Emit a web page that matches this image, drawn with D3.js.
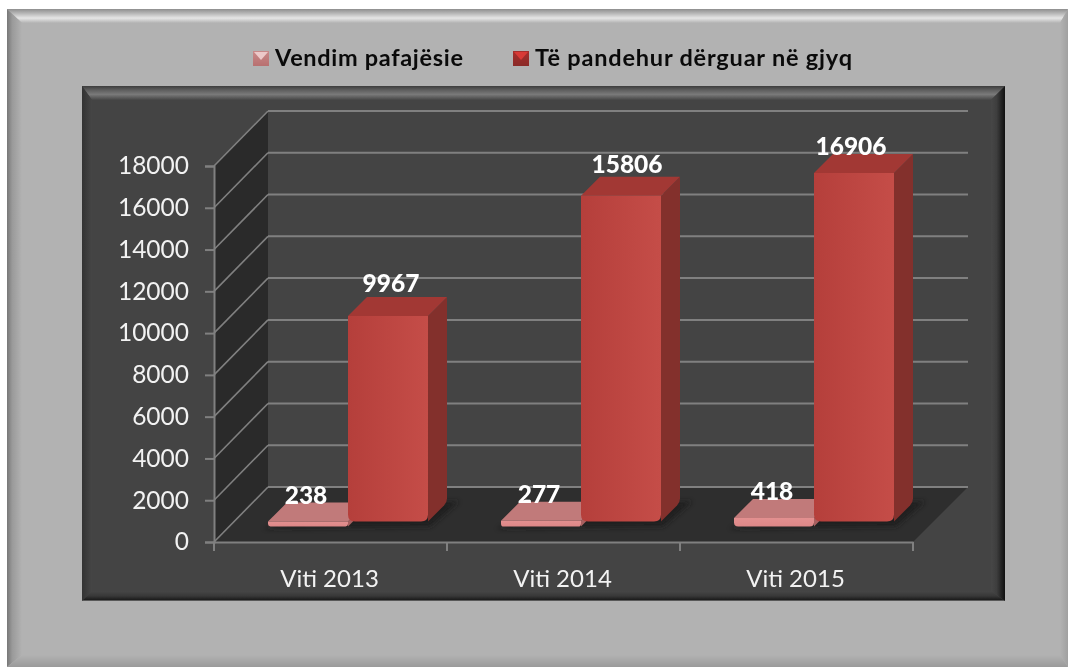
<!DOCTYPE html>
<html><head><meta charset="utf-8">
<script src="https://cdn.jsdelivr.net/npm/d3@7/dist/d3.min.js"></script>
<style>html,body{margin:0;padding:0;background:#fff;overflow:hidden}svg{display:block;filter:blur(.45px)}text{font-family:Lato,"Open Sans",sans-serif}</style>
</head><body><svg id="c" width="1068" height="667"></svg>
<script>
const categories = ["Viti 2013","Viti 2014","Viti 2015"];
const seriesNames = ["Vendim pafajësie","Të pandehur dërguar në gjyq"];
const acquittals = [238,277,418];
const sentToTrial = [9967,15806,16906];
const yTicks = [0,2000,4000,6000,8000,10000,12000,14000,16000,18000];

const svg = d3.select("#c");
const defs = svg.append("defs");
function grad(id,stops,x2,y2){
  const g=defs.append("linearGradient").attr("id",id).attr("x1",0).attr("y1",0).attr("x2",x2).attr("y2",y2);
  stops.forEach(s=>g.append("stop").attr("offset",s[0]).attr("stop-color",s[1]));
}
grad("oT",[[0,"#8e8e8e"],[.35,"#bcbcbc"],[.65,"#e6e6e6"],[1,"#b2b2b2"]],0,1);
grad("oL",[[0,"#777"],[.35,"#9a9a9a"],[1,"#b2b2b2"]],1,0);
grad("oB",[[0,"#b2b2b2"],[1,"#9a9a9a"]],0,1);
grad("oR",[[0,"#b2b2b2"],[1,"#a0a0a0"]],1,0);
grad("iT",[[0,"#3c3c3c"],[.3,"#5f5f5f"],[.6,"#7a7a7a"],[1,"#454545"]],0,1);
grad("iL",[[0,"#333"],[1,"#464646"]],1,0);
grad("iR",[[0,"#474747"],[.4,"#3e3e3e"],[1,"#101010"]],1,0);
grad("iB",[[0,"#464646"],[.5,"#383838"],[.85,"#1e1e1e"],[1,"#777"]],0,1);
grad("redFront",[[0,"#b53f3b"],[1,"#c54d48"]],1,0);
grad("pinkFront",[[0,"#e39090"],[1,"#dd8787"]],0,1);
grad("mk0",[[0,"#c98a8a"],[1,"#b87070"]],0,1);
grad("mk1",[[0,"#a82e2b"],[1,"#8a2a28"]],0,1);
defs.append("filter").attr("id","soft").attr("x","-20%").attr("y","-50%").attr("width","140%").attr("height","200%")
  .append("feGaussianBlur").attr("stdDeviation",2.5);

const poly=(pts,fill)=>svg.append("polygon").attr("points",pts.map(p=>p.join(",")).join(" ")).attr("fill",fill);

// outer panel
svg.append("rect").attr("x",7).attr("y",9).attr("width",1061).attr("height",658).attr("fill","#b2b2b2");
poly([[7,9],[1068,9],[1060,23],[22,23]],"url(#oT)");
poly([[7,9],[22,23],[22,655],[7,667]],"url(#oL)");
poly([[7,667],[22,655],[1060,655],[1068,667]],"url(#oB)");
poly([[1068,9],[1060,23],[1060,655],[1068,667]],"url(#oR)");

// inner panel
const P={l:82,t:86,r:1005,b:601};
svg.append("rect").attr("x",P.l).attr("y",P.t).attr("width",P.r-P.l).attr("height",P.b-P.t).attr("fill","#444");
poly([[P.l,P.t],[P.r,P.t],[P.r-14,P.t+14],[P.l+10,P.t+14]],"url(#iT)");
poly([[P.l,P.t],[P.l+10,P.t+14],[P.l+10,P.b-10],[P.l,P.b]],"url(#iL)");
poly([[P.r,P.t],[P.r-14,P.t+14],[P.r-14,P.b-10],[P.r,P.b]],"url(#iR)");
poly([[P.l,P.b],[P.l+10,P.b-10],[P.r-14,P.b-10],[P.r,P.b]],"url(#iB)");

// scales
const plot={x0:214,x1:913,y0:542,y1:166,dx:54,dy:55};
const x=d3.scaleBand().domain(categories).range([plot.x0,plot.x1]);
const y=d3.scaleLinear().domain([0,18000]).range([plot.y0,plot.y1]);
const xInner=d3.scaleBand().domain(seriesNames).range([54,214]);
const h=d3.scaleLinear().domain([0,18000]).range([0,371]);
const barDepth=19, bases={[seriesNames[0]]:526.5,[seriesNames[1]]:521.5};

// walls and floor
poly([[plot.x0,plot.y0],[plot.x1,plot.y0],[plot.x1+plot.dx+1,plot.y0-plot.dy],[plot.x0+plot.dx,plot.y0-plot.dy]],"#2e2e2e");
poly([[plot.x0,plot.y1],[plot.x0+plot.dx,plot.y1-plot.dy-1],[plot.x0+plot.dx,plot.y0-plot.dy],[plot.x0,plot.y0]],"#2a2a2a");
const gridCol="#808080";
const grid=svg.append("g");
grid.selectAll("line.back").data(yTicks).join("line").attr("class","back")
  .attr("x1",plot.x0+plot.dx).attr("x2",plot.x1+plot.dx+1)
  .attr("y1",d=>y(d)-plot.dy).attr("y2",d=>y(d)-plot.dy)
  .attr("stroke",gridCol).attr("stroke-width",2);
grid.selectAll("line.side").data(yTicks).join("line").attr("class","side")
  .attr("x1",plot.x0).attr("x2",plot.x0+plot.dx)
  .attr("y1",d=>y(d)).attr("y2",d=>y(d)-plot.dy)
  .attr("stroke",gridCol).attr("stroke-width",1.6);

// axes
const yAxis=svg.append("g").attr("transform",`translate(${plot.x0},0)`)
  .call(d3.axisLeft(y).tickValues(yTicks).tickFormat(d3.format("d")).tickSize(9).tickPadding(16));
const xAxis=svg.append("g").attr("transform",`translate(0,${plot.y0})`)
  .call(d3.axisBottom(x).tickSize(0).tickPadding(28));
[yAxis,xAxis].forEach(a=>{
  a.selectAll("path").attr("stroke",gridCol).attr("stroke-width",2);
  a.selectAll("line").attr("stroke",gridCol).attr("stroke-width",2);
  a.selectAll("text").attr("fill","#f2f2f2").style("font-family","Lato");
});
yAxis.selectAll("text").style("font-size","24.5px");
xAxis.selectAll("text").style("font-size","24px").attr("dx",-1);
xAxis.selectAll("line.edge").data(d3.range(categories.length+1)).join("line").attr("class","edge")
  .attr("x1",i=>plot.x0+i*x.step()).attr("x2",i=>plot.x0+i*x.step())
  .attr("y1",0).attr("y2",9).attr("stroke",gridCol).attr("stroke-width",2);

// bars
const rows=[];
categories.forEach((c,i)=>{
  rows.push({c,s:seriesNames[0],v:acquittals[i],k:0,nx:-2,ny:-8});
});
categories.forEach((c,i)=>{
  rows.push({c,s:seriesNames[1],v:sentToTrial[i],k:1,nx:[3,6,-3][i],ny:[-15,-13,-9][i]});
});
const colors=[{top:"#c17a7a",side:"#a86060",front:"url(#pinkFront)"},{top:"#a23834",side:"#83302c",front:"url(#redFront)"}];
const bars=svg.append("g");
rows.forEach(d=>{
  const L=x(d.c)+xInner(d.s), W=xInner.bandwidth(), B=bases[d.s], T=B-h(d.v), R=L+W, D=barDepth;
  d.L=L;d.W=W;d.T=T;
  if(d.k===1) bars.append("polygon").attr("filter","url(#soft)").attr("fill","#1f1f1f")
    .attr("points",`${L-85},${B+7} ${R+2},${B+5} ${R+D+12},${B-D-1} ${L+D+10},${B-D-1}`)
    .attr("opacity",.85);
});
rows.forEach(d=>{
  const L=d.L, W=d.W, T=d.T, B=bases[d.s], R=L+W, D=barDepth, c=colors[d.k];
  const rad=Math.min(7,(B-T)/2);
  bars.append("path").attr("fill",c.side)
    .attr("d",`M ${R} ${T} L ${R+D} ${T-D} L ${R+D} ${B-D-4} Q ${R+D} ${B-D} ${R+D-3} ${B-D+3} L ${R} ${B} Z`);
  bars.append("polygon").attr("fill",c.top)
    .attr("points",`${L},${T} ${L+D},${T-D} ${R+D},${T-D} ${R},${T}`);
  bars.append("path").attr("fill",c.front)
    .attr("d",`M ${L} ${T} L ${R} ${T} L ${R} ${B-rad} Q ${R} ${B} ${R-rad} ${B} L ${L+rad} ${B} Q ${L} ${B} ${L} ${B-rad} Z`);
});

// value labels
svg.append("g").selectAll("text").data(rows).join("text")
  .attr("x",d=>d.L+d.W/2+d.nx).attr("y",d=>d.T-barDepth+d.ny)
  .attr("text-anchor","middle").attr("dominant-baseline","central")
  .attr("fill","#fff").style("font-weight",900).style("font-size","24.5px")
  .text(d=>d.v);

// legend
const legendSpec=[{mx:253,tx:275,w:188,fill:"url(#mk0)",hi:"#ecc9c9"},{mx:513,tx:535,w:317,fill:"url(#mk1)",hi:"#d83a36"}];
const lg=svg.append("g").selectAll("g").data(seriesNames).join("g");
lg.append("rect").attr("x",(d,i)=>legendSpec[i].mx).attr("y",51).attr("width",16).attr("height",15)
  .attr("fill",(d,i)=>legendSpec[i].fill);
lg.append("polygon").attr("fill",(d,i)=>legendSpec[i].hi)
  .attr("points",(d,i)=>{const m=legendSpec[i].mx;return `${m+1},52 ${m+15},52 ${m+8},60`;});
lg.append("text").attr("x",(d,i)=>legendSpec[i].tx).attr("y",66)
  .attr("textLength",(d,i)=>legendSpec[i].w).attr("lengthAdjust","spacing")
  .attr("fill","#0a0a0a").style("font-weight",700).style("font-size","23.5px").text(d=>d);
</script></body></html>
